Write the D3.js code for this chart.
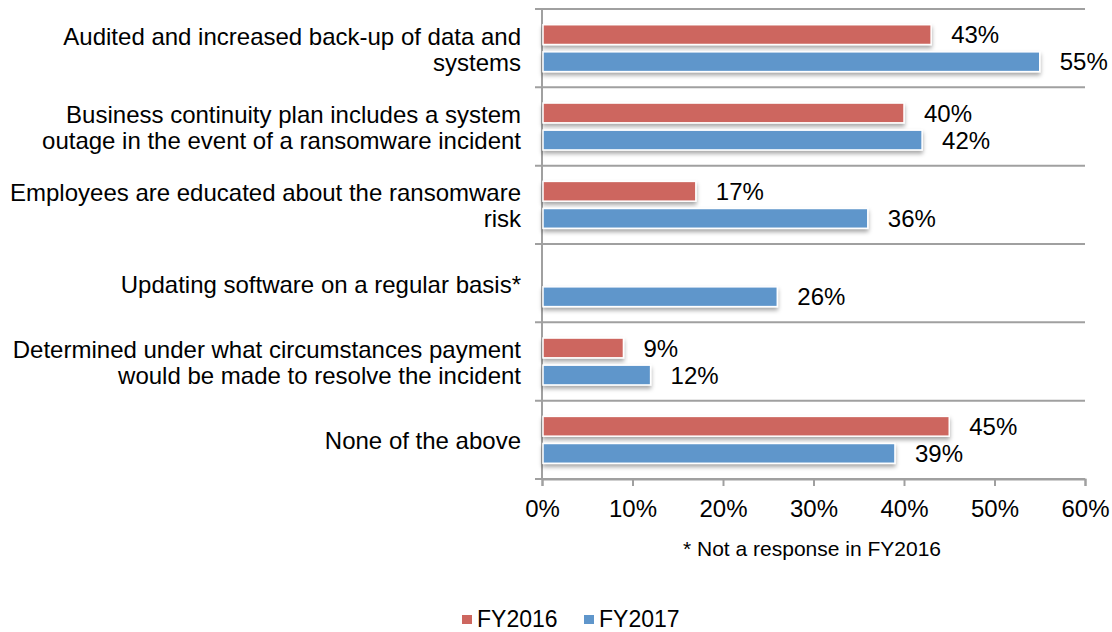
<!DOCTYPE html>
<html>
<head>
<meta charset="utf-8">
<script src="https://cdn.jsdelivr.net/npm/d3@7"></script>
<style>
  html, body { margin: 0; padding: 0; background: #fff; }
  svg { display: block; font-family: "Liberation Sans", Arial, sans-serif; }
</style>
</head>
<body>
<svg id="chart" width="1112" height="632"></svg>
<script>
// Ransomware preparedness responses by fiscal year
const categories = [
  ["Audited and increased back-up of data and", "systems"],
  ["Business continuity plan includes a system", "outage in the event of a ransomware incident"],
  ["Employees are educated about the ransomware", "risk"],
  ["Updating software on a regular basis*"],
  ["Determined under what circumstances payment", "would be made to resolve the incident"],
  ["None of the above"]
];
const seriesNames = ["FY2016", "FY2017"];
const fy2016 = [43, 40, 17, null, 9, 45];
const fy2017 = [55, 42, 36, 26, 12, 39];
const xTicks = [0, 10, 20, 30, 40, 50, 60];
const footnote = "* Not a response in FY2016";

const colors = { FY2016: "#CD665F", FY2017: "#5F96CB" };

const svg = d3.select("#chart");
const margin = { left: 542, right: 27, top: 9, bottom: 153 };
const W = 1112, H = 632;
const fontSize = 24;

const x = d3.scaleLinear().domain([0, 60]).range([margin.left, W - margin.right]);
const catIdx = categories.map((_, i) => i);
const y = d3.scaleBand().domain(catIdx).range([margin.top, H - margin.bottom]).padding(0);
const ys = d3.scaleBand().domain(seriesNames).range([0, y.bandwidth()])
  .paddingInner(0.27).paddingOuter(0.58);

const rows = catIdx.map(i => ({ i, FY2016: fy2016[i], FY2017: fy2017[i] }));

// soft drop shadow under the bars
const defs = svg.append("defs");
const f = defs.append("filter").attr("id", "shadow")
  .attr("x", "-5%").attr("y", "-30%").attr("width", "110%").attr("height", "190%");
f.append("feDropShadow").attr("dx", 0).attr("dy", 3).attr("stdDeviation", 2)
  .attr("flood-color", "#000").attr("flood-opacity", 0.35);

const axisColor = "#A0A0A0";

// category separators (extend left as tick marks)
const seps = d3.range(categories.length + 1).map(k =>
  k < categories.length ? y(k) : y(categories.length - 1) + y.bandwidth());
svg.append("g").selectAll("line").data(seps).join("line")
  .attr("x1", margin.left - 7).attr("x2", x(60))
  .attr("y1", d => d).attr("y2", d => d)
  .attr("stroke", axisColor).attr("stroke-width", 2);

// bottom axis
const xAxis = d3.axisBottom(x).tickValues(xTicks).tickFormat(d => d + "%")
  .tickSize(7).tickPadding(14);
const gx = svg.append("g").attr("transform", `translate(0,${seps[seps.length - 1]})`).call(xAxis);
gx.select(".domain").attr("stroke", axisColor).attr("stroke-width", 2);
gx.selectAll(".tick line").attr("stroke", axisColor).attr("stroke-width", 2);
gx.selectAll(".tick text").attr("font-size", fontSize).attr("fill", "#000")
  .attr("font-family", "Liberation Sans, Arial, sans-serif");

// vertical axis line
svg.append("line").attr("x1", margin.left).attr("x2", margin.left)
  .attr("y1", seps[0]).attr("y2", seps[seps.length - 1])
  .attr("stroke", axisColor).attr("stroke-width", 2);

// bars
const bars = [];
rows.forEach(r => seriesNames.forEach(s => {
  if (r[s] != null) bars.push({ i: r.i, s, v: r[s] });
}));
svg.append("g").selectAll("rect").data(bars).join("rect")
  .attr("x", x(0) + 1)
  .attr("y", d => y(d.i) + ys(d.s))
  .attr("width", d => x(d.v) - x(0) - 1)
  .attr("height", ys.bandwidth())
  .attr("fill", d => colors[d.s])
  .attr("stroke", "#fff").attr("stroke-width", 1.5)
  .attr("filter", "url(#shadow)");

// value labels
svg.append("g").selectAll("text").data(bars).join("text")
  .attr("x", d => x(d.v) + 20)
  .attr("y", d => y(d.i) + ys(d.s) + ys.bandwidth() / 2)
  .attr("dy", "0.36em")
  .attr("font-size", fontSize).attr("fill", "#000")
  .text(d => d.v + "%");

// category labels
const lineH = 26;
const cl = svg.append("g").selectAll("text").data(catIdx).join("text")
  .attr("text-anchor", "end")
  .attr("x", 521)
  .attr("font-size", fontSize).attr("fill", "#000")
  .attr("y", i => y(i) + y.bandwidth() / 2 + 1 - (categories[i].length - 1) * lineH / 2);
cl.each(function(i) {
  const t = d3.select(this);
  categories[i].forEach((line, k) => {
    t.append("tspan").attr("x", 521).attr("dy", k === 0 ? "0.36em" : lineH).text(line);
  });
});

// footnote
svg.append("text").attr("x", 812).attr("y", 548).attr("dy", "0.36em")
  .attr("text-anchor", "middle").attr("font-size", 21).attr("fill", "#000")
  .text(footnote);

// legend
const legend = svg.append("g");
const legendX = [462, 584];
seriesNames.forEach((s, k) => {
  const g = legend.append("g").attr("transform", `translate(${legendX[k]},619)`);
  g.append("rect").attr("x", 0).attr("y", -4).attr("width", 10).attr("height", 9)
    .attr("fill", colors[s]);
  g.append("text").attr("x", 15).attr("y", 8)
    .attr("font-size", 23).attr("fill", "#000").text(s);
});
</script>
</body>
</html>
